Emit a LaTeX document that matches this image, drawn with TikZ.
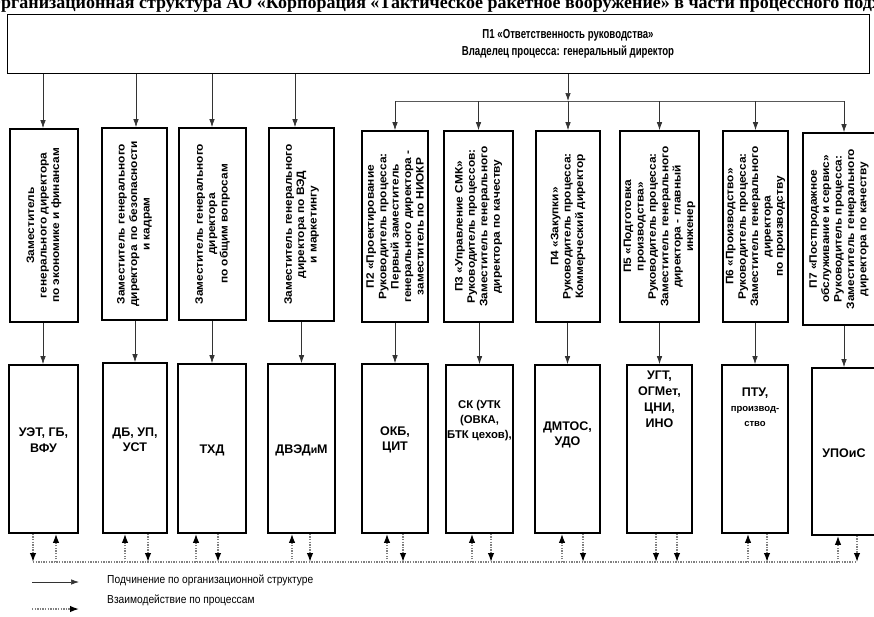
\documentclass[tikz,border=0pt]{standalone}
\usepackage{fontspec}
\setmainfont{Liberation Sans}
\newfontfamily\narrowf[FakeStretch=0.74]{Liberation Sans}
\newfontfamily\legf[FakeStretch=0.88]{Liberation Sans}
\newfontfamily\widef[FakeStretch=1.1]{Liberation Sans}
\newfontfamily\serift{Liberation Serif}
\usetikzlibrary{arrows.meta}
\begin{document}
\begin{tikzpicture}[x=1pt,y=-1pt,
  box/.style={draw, line width=1.7pt, inner sep=0pt},
  vt/.style={rotate=90, align=center, inner sep=0pt, font=\widef\bfseries\fontsize{10.8}{12.4}\selectfont},
  lt/.style={align=center, inner sep=0pt, font=\bfseries\fontsize{12.5}{15.5}\selectfont},
  sub/.style={-{Latex[length=8pt,width=5.5pt]}, line width=0.7pt, draw=black!80},
  bus/.style={line width=0.8pt, draw=black!65},
  proc/.style={-{Latex[length=9pt,width=6.5pt,color=black]}, line width=1.4pt, draw=black!50, dash pattern=on 1.3pt off 1.3pt},
  leg/.style={anchor=west, inner sep=0pt, font=\legf\fontsize{11.6}{14}\selectfont}
]
\useasboundingbox (0,0) rectangle (874,616);

% title (cut by the page edge, as in the reference)
\node[anchor=base west, inner sep=0pt, font=\serift\bfseries\fontsize{18}{18}\selectfont] (title) at (-13,8.5)
  {Организационная структура АО «Корпорация «Тактическое ракетное вооружение» в части процессного подхода};

% top box
\node[box, minimum width=862, minimum height=59] (top) at (438.5,44) {};
\node[align=center, inner sep=0pt, font=\narrowf\bfseries\fontsize{13}{17}\selectfont] (toptext) at (568,44)
  {П1 «Ответственность руководства»\\Владелец процесса: генеральный директор};

% upper boxes
\node[box, minimum width=68, minimum height=193] (u1) at (44,225.5) {};
\node[box, minimum width=65, minimum height=192] (u2) at (134.5,224) {};
\node[box, minimum width=67, minimum height=192] (u3) at (212.5,224) {};
\node[box, minimum width=65, minimum height=193] (u4) at (301.5,224.5) {};
\node[box, minimum width=66, minimum height=191] (u5) at (395,226.5) {};
\node[box, minimum width=69, minimum height=191] (u6) at (478.5,226.5) {};
\node[box, minimum width=64, minimum height=191] (u7) at (568,226.5) {};
\node[box, minimum width=79, minimum height=191] (u8) at (659.5,226.5) {};
\node[box, minimum width=65, minimum height=191] (u9) at (755.5,226.5) {};
\node[box, minimum width=73, minimum height=192] (u10) at (839.5,229) {};

\node[vt] (t1) at (u1) {Заместитель\\генерального директора\\по экономике и финансам};
\node[vt] (t2) at (u2) {Заместитель генерального\\директора\, по безопасности\\и кадрам};
\node[vt] (t3) at (u3) {Заместитель генерального\\директора\\по общим вопросам};
\node[vt] (t4) at (u4) {Заместитель генерального\\директора по ВЭД\\и маркетингу};
\node[vt] (t5) at (u5) {П2 «Проектирование\\Руководитель процесса:\\Первый заместитель\\генерального директора -\\заместитель по НИОКР};
\node[vt] (t6) at (u6) {П3 «Управление СМК»\\Руководитель процессов:\\Заместитель генерального\\директора по качеству};
\node[vt] (t7) at (u7) {П4 «Закупки»\\Руководитель процесса:\\Коммерческий директор};
\node[vt] (t8) at (u8) {П5 «Подготовка\\производства»\\Руководитель процесса:\\Заместитель генерального\\директора - главный\\инженер};
\node[vt] (t9) at (u9) {П6 «Производство»\\Руководитель процесса:\\Заместитель генерального\\директора\\по производству};
\node[vt] (t10) at (839,229) {П7 «Постпродажное\\обслуживание и сервис»\\Руководитель процесса:\\Заместитель генерального\\директора по качеству};

% lower boxes
\node[box, minimum width=69, minimum height=168] (l1) at (43.5,449) {};
\node[box, minimum width=64, minimum height=170] (l2) at (135,448) {};
\node[box, minimum width=68, minimum height=169] (l3) at (212,448.5) {};
\node[box, minimum width=67, minimum height=169] (l4) at (301.5,448.5) {};
\node[box, minimum width=66, minimum height=169] (l5) at (395,448.5) {};
\node[box, minimum width=67, minimum height=168] (l6) at (479.5,449) {};
\node[box, minimum width=65, minimum height=168] (l7) at (567.5,449) {};
\node[box, minimum width=65, minimum height=168] (l8) at (659.5,449) {};
\node[box, minimum width=66, minimum height=168] (l9) at (755,449) {};
\node[box, minimum width=64, minimum height=167] (l10) at (844,451.5) {};

\node[lt] (s1) at (43.5,440) {УЭТ, ГБ,\\ВФУ};
\node[lt] (s2) at (135,440) {ДБ, УП,\\УСТ};
\node[lt] (s3) at (212,450) {ТХД};
\node[lt] (s4) at (301.5,450) {ДВЭД{\fontsize{10.5}{12}\selectfont и}М};
\node[lt] (s5) at (395,440) {ОКБ,\\ЦИТ};
\node[lt, font=\bfseries\fontsize{11.3}{15}\selectfont] (s6) at (479.5,421) {СК (УТК\\(ОВКА,\\БТК цехов),};
\node[lt] (s7) at (567.5,435) {ДМТОС,\\УДО};
\node[lt, font=\bfseries\fontsize{12.5}{16}\selectfont] (s8) at (659.5,399) {УГТ,\\ОГМет,\\ЦНИ,\\ИНО};
\node[lt, font=\bfseries\fontsize{12.5}{15}\selectfont] (s9) at (755,407) {ПТУ,\\{\fontsize{9.5}{12}\selectfont производ-}\\{\fontsize{9.5}{12}\selectfont ство}};
\node[lt] (s10) at (844,453) {УПОиС};

% subordination: top box to upper boxes
\coordinate (a1) at (43,0);
\coordinate (a2) at (136,0);
\coordinate (a3) at (212,0);
\coordinate (a4) at (295,0);
\draw[sub] (top.south -| a1) -- (u1.north -| a1);
\draw[sub] (top.south -| a2) -- (u2.north -| a2);
\draw[sub] (top.south -| a3) -- (u3.north -| a3);
\draw[sub] (top.south -| a4) -- (u4.north -| a4);

% bus to process boxes
\coordinate (busL) at (395,101);
\coordinate (busR) at (844,101);
\draw[bus] (busL) -- (busR);
\draw[sub] (top.south -| u7) -- (u7 |- busL);
\draw[sub] (busL) -- (u5.north);
\draw[sub] (u6 |- busL) -- (u6.north);
\draw[sub] (u7 |- busL) -- (u7.north);
\draw[sub] (u8 |- busL) -- (u8.north);
\draw[sub] (u9 |- busL) -- (u9.north);
\draw[sub] (busR) -- (u10.north -| busR);

% upper to lower boxes
\draw[sub] (u1.south -| a1) -- (l1.north -| a1);
\draw[sub] (u2.south -| l2) -- (l2.north);
\draw[sub] (u3.south -| l3) -- (l3.north);
\draw[sub] (u4.south -| l4) -- (l4.north);
\draw[sub] (u5.south) -- (l5.north);
\draw[sub] (u6.south -| l6) -- (l6.north);
\draw[sub] (u7.south -| l7) -- (l7.north);
\draw[sub] (u8.south) -- (l8.north);
\draw[sub] (u9.south -| l9) -- (l9.north);
\draw[sub] (u10.south -| l10) -- (l10.north);

% process interaction bus
\coordinate (pL) at (33,562);
\coordinate (pR) at (857,562);
\draw[line width=1.4pt, draw=black!50, dash pattern=on 1.3pt off 1.3pt] (pL) -- (pR);
\foreach \dn/\up/\b in {33/56/l1, 148/125/l2, 218/196/l3, 310/292/l4, 403/387/l5, 491/472/l6, 583/562/l7, 767/748/l9, 857/838/l10}{
  \coordinate (d) at (\dn,562);
  \coordinate (u) at (\up,562);
  \draw[proc] (\b.south -| d) -- (d);
  \draw[proc] (u) -- (\b.south -| u);
}
\coordinate (d8a) at (656,562);
\coordinate (d8b) at (677,562);
\draw[proc] (l8.south -| d8a) -- (d8a);
\draw[proc] (l8.south -| d8b) -- (d8b);

% legend
\coordinate (g1a) at (32,582);
\coordinate (g1b) at (79,582);
\coordinate (g2a) at (32,609);
\coordinate (g2b) at (79,609);
\draw[sub] (g1a) -- (g1b);
\draw[proc] (g2a) -- (g2b);
\node[leg] (leg1) at (107,580) {Подчинение по организационной структуре};
\node[leg] (leg2) at (107,600) {Взаимодействие по процессам};
\end{tikzpicture}
\end{document}
